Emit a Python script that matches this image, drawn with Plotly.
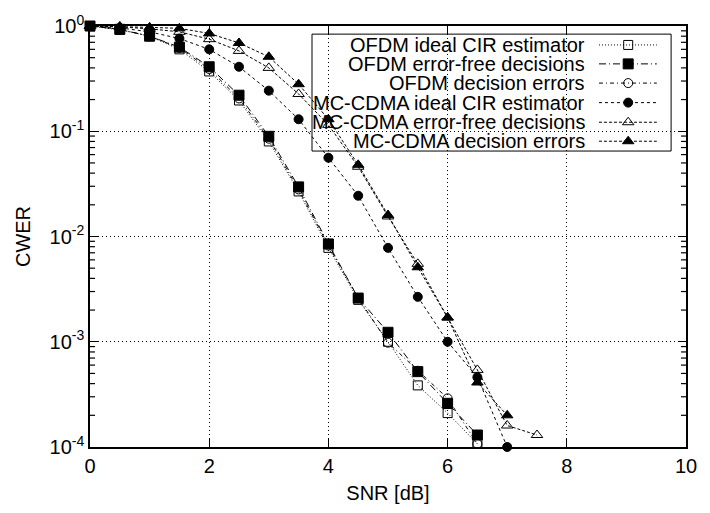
import math
import plotly.graph_objects as go

# ---------------- data ----------------
snr_ofdm = [0, 0.5, 1, 1.5, 2, 2.5, 3, 3.5, 4, 4.5, 5, 5.5, 6, 6.5]
ofdm_ideal = [1.0, 0.92, 0.8, 0.6, 0.37, 0.196, 0.080, 0.0268, 0.0078, 0.0025, 1.0e-3, 3.85e-4, 2.1e-4, 1.07e-4]
ofdm_errfree = [1.0, 0.93, 0.8, 0.63, 0.41, 0.22, 0.0895, 0.0296, 0.0085, 0.0026, 1.23e-3, 5.2e-4, 2.6e-4, 1.3e-4]
ofdm_decerr = [1.0, 0.93, 0.8, 0.62, 0.39, 0.205, 0.085, 0.028, 0.0082, 0.0026, 9.8e-4, 5.3e-4, 2.9e-4, 1.07e-4]

snr_mc_ideal = [0, 0.5, 1, 1.5, 2, 2.5, 3, 3.5, 4, 4.5, 5, 5.5, 6, 6.5, 7]
mc_ideal = [1.0, 0.96, 0.88, 0.76, 0.6, 0.41, 0.243, 0.13, 0.056, 0.0244, 0.0078, 0.00267, 1.0e-3, 4.6e-4, 1.0e-4]

snr_mc_errfree = [0, 0.5, 1, 1.5, 2, 2.5, 3, 3.5, 4, 4.5, 5, 5.5, 6, 6.5, 7, 7.5]
mc_errfree = [1.0, 0.98, 0.94, 0.88, 0.75, 0.58, 0.40, 0.226, 0.115, 0.046, 0.0155, 0.0055, 0.0017, 5.4e-4, 1.6e-4, 1.3e-4]

snr_mc_decerr = [0, 0.5, 1, 1.5, 2, 2.5, 3, 3.5, 4, 4.5, 5, 5.5, 6, 6.5, 7]
mc_decerr = [1.0, 0.99, 0.97, 0.95, 0.85, 0.69, 0.51, 0.28, 0.13, 0.048, 0.016, 0.0051, 0.0017, 4.1e-4, 2.0e-4]

names = ["OFDM ideal CIR estimator", "OFDM error-free decisions", "OFDM decision errors",
         "MC-CDMA ideal CIR estimator", "MC-CDMA error-free decisions", "MC-CDMA decision errors"]

x_ticks = [0, 2, 4, 6, 8, 10]
y_ticks = [1, 0.1, 0.01, 0.001, 0.0001]
y_ticktext = ["10<sup>0</sup>", "10<sup>-1</sup>", "10<sup>-2</sup>", "10<sup>-3</sup>", "10<sup>-4</sup>"]

# ---------------- styles ----------------
series = [
    (snr_ofdm, ofdm_ideal, "square-open", "1px,2px", 9),
    (snr_ofdm, ofdm_errfree, "square", "7px,3px,1px,3px", 10),
    (snr_ofdm, ofdm_decerr, "circle-open", "4px,3px,1px,3px", 9),
    (snr_mc_ideal, mc_ideal, "circle", "3px,3px", 9),
    (snr_mc_errfree, mc_errfree, "triangle-up-open", "3px,2px", 10),
    (snr_mc_decerr, mc_decerr, "triangle-up", "3px,2px", 10),
]

FONT = "Liberation Sans, Arial, Helvetica, sans-serif"
FS = 20
PLOT_W, PLOT_H = 596, 430

fig = go.Figure()
for (xs, ys, sym, dash, ms), nm in zip(series, names):
    fig.add_trace(go.Scatter(
        x=xs, y=ys, mode="lines+markers", name=nm, showlegend=False,
        line=dict(color="black", width=1, dash=dash),
        marker=dict(symbol=sym, size=ms, color="black", line=dict(color="black", width=1)),
        cliponaxis=False,
    ))

# ---------------- custom legend (text left of sample) ----------------
row_y = [0.955, 0.910, 0.8644, 0.818, 0.7714, 0.7263]
sx0, sx1, smid = 0.854, 0.951, 0.903
for (xs, ys, sym, dash, ms), nm, ry in zip(series, names, row_y):
    fig.add_trace(go.Scatter(
        x=[sx0, sx1], y=[ry, ry], mode="lines", xaxis="x2", yaxis="y2",
        showlegend=False, hoverinfo="skip",
        line=dict(color="black", width=1, dash=dash),
    ))
    fig.add_trace(go.Scatter(
        x=[smid], y=[ry], mode="markers", xaxis="x2", yaxis="y2",
        showlegend=False, hoverinfo="skip",
        marker=dict(symbol=sym, size=ms, color="black", line=dict(color="black", width=1)),
    ))
    fig.add_annotation(x=0.834, y=ry, xref="paper", yref="paper", text=nm,
                       showarrow=False, xanchor="right", yanchor="middle", height=18,
                       font=dict(family=FONT, size=FS, color="black"))

fig.add_shape(type="rect", xref="paper", yref="paper", x0=0.3725, x1=0.975, y0=0.703, y1=0.9807,
              line=dict(color="black", width=1), fillcolor="rgba(0,0,0,0)", layer="above")

# ---------------- log minor ticks (left and right, inward) ----------------
minor_len = 5.0 / PLOT_W
for e in range(-4, 0):
    for m in range(2, 10):
        py = (math.log10(m * 10.0 ** e) + 4) / 4
        for x0, x1 in ((0, minor_len), (1 - minor_len, 1)):
            fig.add_shape(type="line", xref="paper", yref="paper", x0=x0, x1=x1, y0=py, y1=py,
                          line=dict(color="black", width=1.2), layer="above")

axis_common = dict(
    showline=True, linecolor="black", linewidth=1.5, mirror="allticks",
    ticks="inside", tickcolor="black", tickwidth=1.2, ticklen=8,
    showgrid=True, gridcolor="black", gridwidth=1, griddash="1px,3px",
    zeroline=False,
    tickfont=dict(family=FONT, size=FS, color="black"),
)

fig.update_layout(
    width=710, height=513,
    margin=dict(l=90, r=24, t=19, b=64),
    paper_bgcolor="white", plot_bgcolor="white",
    font=dict(family=FONT, size=FS, color="black"),
    xaxis=dict(range=[0, 10], tickmode="array", tickvals=x_ticks, **axis_common,
               title=dict(text="SNR [dB]", font=dict(family=FONT, size=FS), standoff=10)),
    yaxis=dict(type="log", range=[-4, 0], tickmode="array", tickvals=y_ticks, ticktext=y_ticktext,
               **axis_common,
               title=dict(text="CWER", font=dict(family=FONT, size=FS), standoff=14)),
    xaxis2=dict(range=[0, 1], overlaying="x", visible=False, showgrid=False),
    yaxis2=dict(range=[0, 1], overlaying="y", visible=False, showgrid=False),
)

fig.write_html("out.html")
